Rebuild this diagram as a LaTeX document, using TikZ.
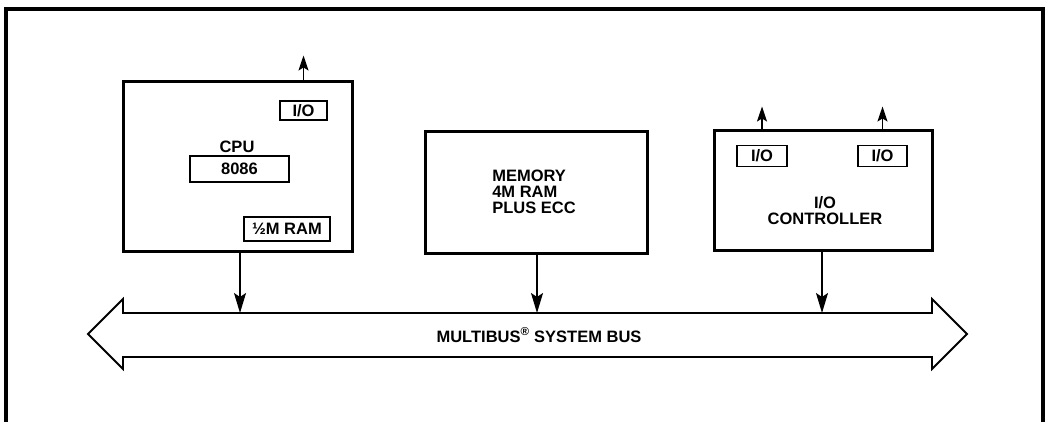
\documentclass[tikz,border=0pt]{standalone}
\usepackage{fontspec}
\setmainfont{Liberation Sans}
\usetikzlibrary{arrows.meta,calc,positioning}

\begin{document}
\begin{tikzpicture}[x=1pt,y=-1pt,
  font=\fontsize{16.5}{16}\selectfont\bfseries,
  unit/.style={draw,line width=3pt,inner sep=0pt},
  chip/.style={draw,line width=1.8pt,inner sep=0pt},
  txt/.style={inner sep=0pt,align=center},
  busline/.style={line width=1.8pt,line join=miter},
  tobus/.style={line width=1.5pt,-{Stealth[length=20pt,width=12pt,inset=4pt]}},
  outward/.style={line width=1.5pt,-{Stealth[length=15pt,width=10pt,inset=3pt]}}
]
  \useasboundingbox (0,0) rectangle (1046,422);
  % outer frame, its bottom edge lies off the page
  \draw[line width=4pt,line join=miter] (6,430) -- (6,9.5) -- (1043,9.5) -- (1043,430);

  % CPU board
  \node[unit,minimum width=229pt,minimum height=169pt] (cpu) at (237.5,166.5) {};
  \node[txt] (cpulbl) at (237,147) {CPU};
  \node[chip,minimum width=99pt,minimum height=26pt] (proc) at (239.5,169) {8086};
  \node[chip,minimum width=86pt,minimum height=24pt] (ram) at (287,229) {½M RAM};
  \node[chip,minimum width=47pt,minimum height=19pt] (cpuio) at (303.5,110.5) {I/O};

  % memory board
  \node[unit,minimum width=222pt,minimum height=121pt] (mem) at (536,192.5) {};
  \node[txt,align=left] (memlbl) at (534,192) {MEMORY\\4M RAM\\PLUS ECC};

  % I/O controller board
  \node[unit,minimum width=218pt,minimum height=119pt] (ioc) at (823,190.5) {};
  \node[chip,minimum width=50pt,minimum height=21pt] (io1) at (762,156) {I/O};
  \node[chip,minimum width=49pt,minimum height=21pt] (io2) at (882.5,156) {I/O};
  \node[txt] (ioclbl) at (825,211) {I/O\\CONTROLLER};

  % system bus
  \draw[busline] (123,313) -- (932,313) -- (932,299) -- (967,334) -- (932,369)
    -- (932,357) -- (123,357) -- (123,369) -- (88,334) -- (123,299) -- cycle;
  \node[txt] (buslbl) at (539,335) {MULTIBUS\textsuperscript{®} SYSTEM BUS};
  \coordinate (tapcpu) at (240,313);
  \coordinate (tapmem) at (537,313);
  \coordinate (tapioc) at (822,313);

  \draw[tobus] (tapcpu |- cpu.south) -- (tapcpu);
  \draw[tobus] (tapmem |- mem.south) -- (tapmem);
  \draw[tobus] (tapioc |- ioc.south) -- (tapioc);

  \draw[outward] (cpuio |- cpu.north) -- ++(0,-25);
  \draw[outward] (io1 |- ioc.north) -- ++(0,-23);
  \draw[outward] (io2 |- ioc.north) -- ++(0,-23);
\end{tikzpicture}
\end{document}
